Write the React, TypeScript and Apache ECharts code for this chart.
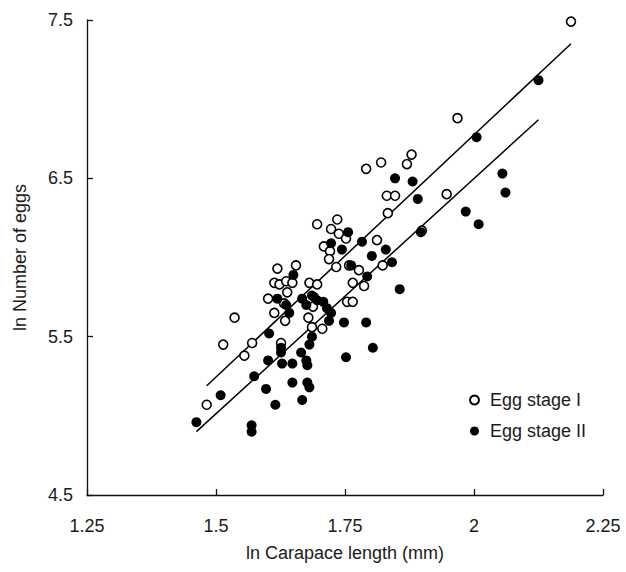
import React, { useEffect, useRef } from "react";
import * as echarts from "echarts";

const xTicks = [1.25, 1.5, 1.75, 2, 2.25];
const yTicks = [4.5, 5.5, 6.5, 7.5];

const stageI: [number, number][] = [
  [1.482, 5.07], [1.514, 5.45], [1.536, 5.62], [1.555, 5.38], [1.57, 5.46],
  [1.619, 5.93], [1.655, 5.95], [1.613, 5.84], [1.623, 5.83], [1.636, 5.85],
  [1.648, 5.84], [1.638, 5.78], [1.601, 5.74], [1.632, 5.71], [1.613, 5.65],
  [1.634, 5.6], [1.626, 5.46], [1.681, 5.84], [1.696, 5.83], [1.679, 5.62],
  [1.686, 5.56], [1.706, 5.55], [1.688, 5.69], [1.696, 6.21], [1.735, 6.24],
  [1.723, 6.18], [1.738, 6.15], [1.752, 6.12], [1.709, 6.07], [1.721, 6.04],
  [1.719, 5.99], [1.733, 5.94], [1.758, 5.95], [1.777, 5.92], [1.765, 5.84],
  [1.787, 5.82], [1.754, 5.72], [1.765, 5.72], [1.791, 6.56], [1.82, 6.6],
  [1.87, 6.59], [1.879, 6.65], [1.831, 6.39], [1.847, 6.39], [1.833, 6.28],
  [1.812, 6.11], [1.823, 5.95], [1.899, 6.17], [1.947, 6.4], [1.968, 6.88],
  [2.188, 7.49],
];

const stageII: [number, number][] = [
  [1.462, 4.96], [1.509, 5.13], [1.569, 4.94], [1.569, 4.9], [1.574, 5.25],
  [1.597, 5.17], [1.601, 5.35], [1.603, 5.52], [1.615, 5.07], [1.619, 5.74],
  [1.626, 5.43], [1.626, 5.4], [1.628, 5.33], [1.636, 5.7], [1.642, 5.65],
  [1.648, 5.33], [1.648, 5.21], [1.65, 5.89], [1.665, 5.4], [1.667, 5.74],
  [1.667, 5.1], [1.675, 5.7], [1.675, 5.35], [1.677, 5.32], [1.677, 5.21],
  [1.681, 5.18], [1.681, 5.45], [1.686, 5.76], [1.686, 5.5], [1.69, 5.75],
  [1.696, 5.73], [1.708, 5.72], [1.715, 5.68], [1.723, 5.65], [1.719, 5.6],
  [1.748, 5.59], [1.752, 5.37], [1.791, 5.59], [1.804, 5.43], [1.723, 6.09],
  [1.744, 6.05], [1.756, 6.16], [1.762, 5.95], [1.783, 6.1], [1.793, 5.88],
  [1.802, 6.01], [1.829, 6.05], [1.841, 5.97], [1.856, 5.8], [1.847, 6.5],
  [1.881, 6.48], [1.891, 6.37], [1.897, 6.16], [1.984, 6.29], [2.009, 6.21],
  [2.005, 6.76], [2.055, 6.53], [2.061, 6.41], [2.125, 7.12],
];

const fitI: [number, number][] = [[1.482, 5.19], [2.188, 7.35]];
const fitII: [number, number][] = [[1.462, 4.9], [2.125, 6.87]];

const FONT = "'Liberation Sans', Arial, Helvetica, sans-serif";
const TXT = "#1a1a1a";

export default function App() {
  const ref = useRef<HTMLDivElement>(null);
  useEffect(() => {
    if (!ref.current) return;
    const chart = echarts.init(ref.current, null, { renderer: "svg" });
    chart.setOption({
      animation: false,
      backgroundColor: "#fff",
      textStyle: { fontFamily: FONT },
      grid: { left: 87, right: 23, top: 20, bottom: 77, containLabel: false },
      legend: {
        orient: "vertical",
        left: 464,
        top: 386,
        itemWidth: 9,
        itemHeight: 9,
        itemGap: 13,
        icon: "circle",
        data: ["Egg stage I", "Egg stage II"],
        textStyle: { fontFamily: FONT, fontSize: 18, color: TXT, padding: [0, 0, 0, 6] },
      },
      xAxis: {
        type: "value",
        min: 1.25,
        max: 2.25,
        interval: 0.25,
        name: "ln Carapace length (mm)",
        nameLocation: "middle",
        nameGap: 49,
        nameTextStyle: { fontFamily: FONT, fontSize: 18, color: TXT },
        axisLine: { lineStyle: { color: "#111", width: 1.3 } },
        axisTick: { inside: true, length: 6, lineStyle: { color: "#111", width: 1.3 }, customValues: xTicks },
        axisLabel: { margin: 22, fontFamily: FONT, fontSize: 18, color: TXT, customValues: xTicks, showMinLabel: true, showMaxLabel: true },
        splitLine: { show: false },
      },
      yAxis: {
        type: "value",
        min: 4.5,
        max: 7.5,
        name: "ln Number of eggs",
        nameLocation: "middle",
        nameGap: 58,
        nameTextStyle: { fontFamily: FONT, fontSize: 18, color: TXT },
        axisLine: { lineStyle: { color: "#111", width: 1.3 } },
        axisTick: { inside: true, length: 6, lineStyle: { color: "#111", width: 1.3 }, customValues: yTicks },
        axisLabel: { margin: 14, fontFamily: FONT, fontSize: 18, color: TXT, customValues: yTicks, formatter: (v: number) => String(v) },
        splitLine: { show: false },
      },
      series: [
        {
          name: "Egg stage I",
          type: "scatter",
          data: stageI,
          symbol: "circle",
          symbolSize: 9,
          itemStyle: { color: "#fff", borderColor: "#000", borderWidth: 1.6, opacity: 1 },
          z: 3,
        },
        {
          name: "Egg stage II",
          type: "scatter",
          data: stageII,
          symbol: "circle",
          symbolSize: 10,
          itemStyle: { color: "#000", opacity: 1 },
          z: 4,
        },
        {
          name: "fit I",
          type: "line",
          data: fitI,
          symbol: "none",
          lineStyle: { color: "#000", width: 1.5 },
          z: 2,
        },
        {
          name: "fit II",
          type: "line",
          data: fitII,
          symbol: "none",
          lineStyle: { color: "#000", width: 1.5 },
          z: 2,
        },
      ],
    });
    return () => chart.dispose();
  }, []);
  return <div ref={ref} style={{ width: 626, height: 572, position: "absolute", left: 0, top: 0 }} />;
}
